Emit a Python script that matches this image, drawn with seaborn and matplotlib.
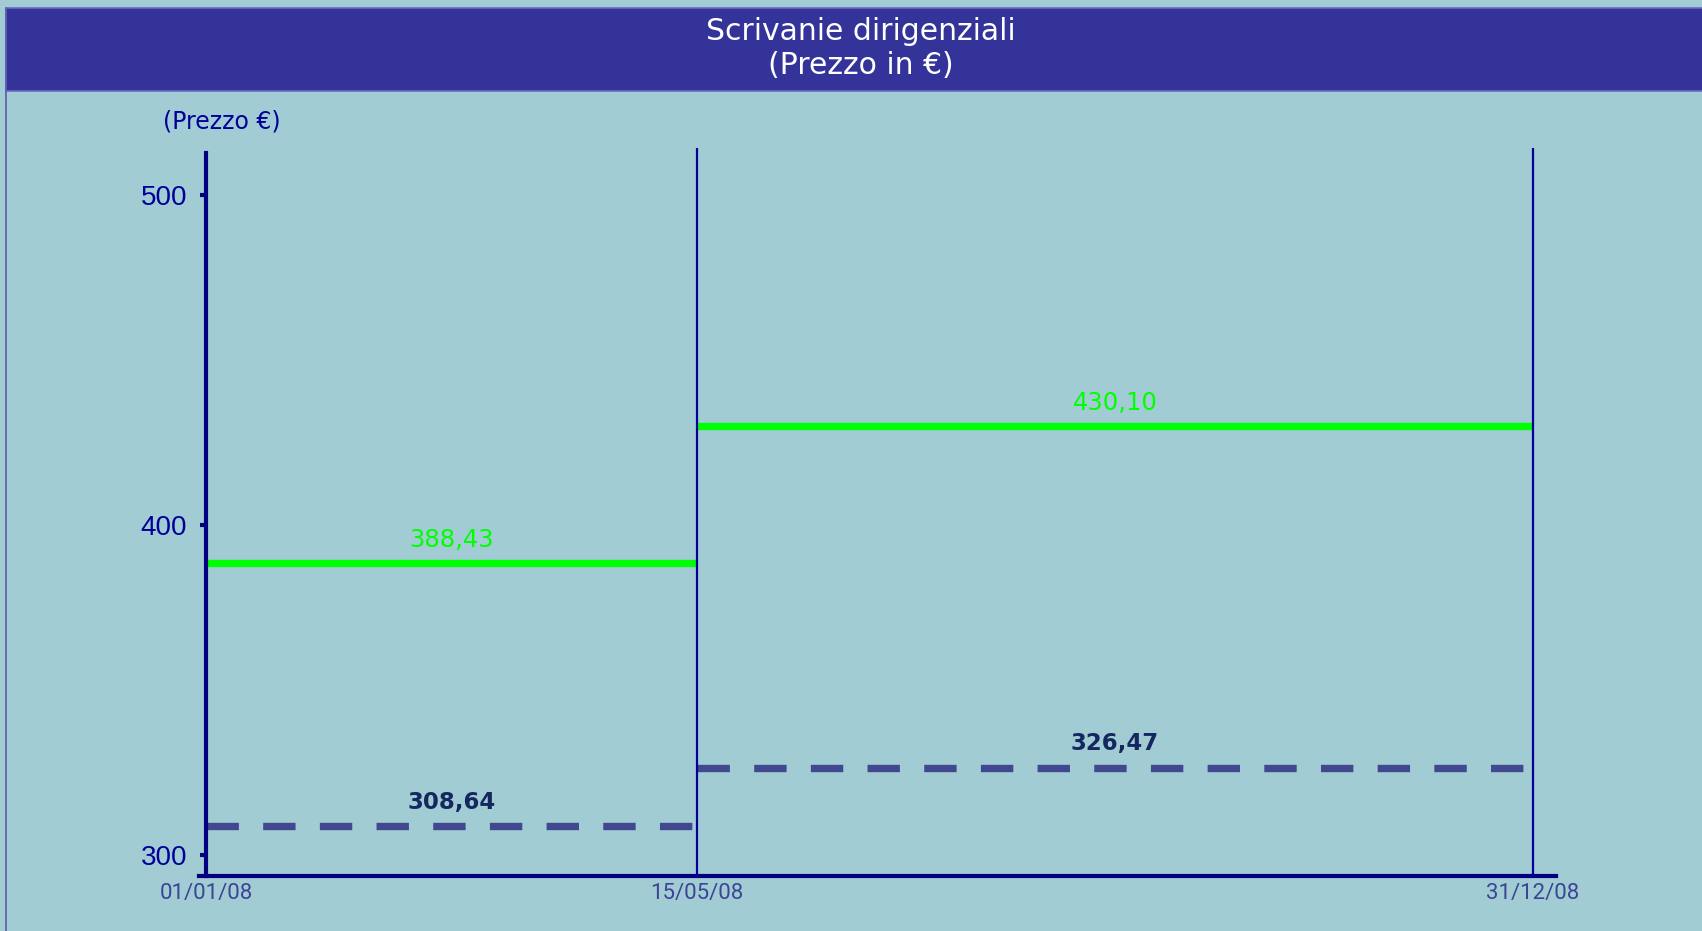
import datetime as dt
import matplotlib
matplotlib.use("Agg")
import matplotlib.pyplot as plt
import matplotlib.dates as mdates
from matplotlib.patches import Rectangle
from matplotlib.lines import Line2D
import pandas as pd
import seaborn as sns

# --- dati ---
date_periodi = [dt.datetime(2008, 1, 1), dt.datetime(2008, 5, 15), dt.datetime(2008, 12, 31)]
etichette_date = ["01/01/08", "15/05/08", "31/12/08"]
prezzo_max = [388.43, 430.10]   # linea verde
prezzo_min = [308.64, 326.47]   # linea tratteggiata
tick_y = [300, 400, 500]

titolo = "Scrivanie dirigenziali"
sottotitolo = "(Prezzo in €)"
etichetta_y = "(Prezzo €)"

# --- colori ---
sfondo = "#A2CCD3"
blu_titolo = "#333399"
blu_assi = "#000080"
blu_testo = "#000099"
verde = "#00FF00"
tratteggio = "#41488F"
scuro = "#14285F"

sns.set_theme(style="white")
plt.rcParams["font.family"] = ["DejaVu Sans"]


def segmenti(valori):
    righe = []
    for i, v in enumerate(valori):
        righe.append({"data": date_periodi[i], "prezzo": v, "tratto": i})
        righe.append({"data": date_periodi[i + 1], "prezzo": v, "tratto": i})
    return pd.DataFrame(righe)


df_max = segmenti(prezzo_max)
df_min = segmenti(prezzo_min)

W, H = 1702, 931
fig = plt.figure(figsize=(W / 100, H / 100), dpi=100, facecolor=sfondo)

# barra del titolo
fig.patches.append(Rectangle((6 / W, 1 - 91 / H), 1.0, 83 / H, transform=fig.transFigure,
                             facecolor=blu_titolo, edgecolor="#6A6AC0", lw=1.2, zorder=0))
fig.lines.append(Line2D([6 / W, 6 / W], [0, 1 - 8 / H], transform=fig.transFigure,
                        color="#5A5AB0", lw=1.2))
fig.text(0.5056, 1 - 31 / H, titolo, ha="center", va="center", color="white", fontsize=21.5)
fig.text(0.5056, 1 - 66 / H, sottotitolo, ha="center", va="center", color="white", fontsize=21.5)
fig.text(222 / W, 1 - 121 / H, etichetta_y, ha="center", va="center", color=blu_testo, fontsize=17)

# assi: pixel -> frazioni della figura
x0, x1, y_asse, y_top = 199, 1556, 876, 146
ax = fig.add_axes([x0 / W, (H - y_asse) / H, (x1 - x0) / W, (y_asse - y_top) / H])
ax.set_facecolor(sfondo)

px_giorno = (1533 - 206) / (date_periodi[-1] - date_periodi[0]).days
ax.set_xlim(date_periodi[0] - dt.timedelta(days=7 / px_giorno),
            date_periodi[-1] + dt.timedelta(days=23 / px_giorno))
px_unita = (855 - 195) / 200.0
y_min = 300 - (y_asse - 855) / px_unita
y_max = 500 + (195 - y_top) / px_unita
ax.set_ylim(y_min, y_max)

# linee verticali dei periodi
ax.vlines(date_periodi[1:], y_min, y_max - 0.5, color=blu_testo, lw=1.6, zorder=3)

sns.lineplot(data=df_max, x="data", y="prezzo", units="tratto", estimator=None,
             color=verde, lw=5.3, ax=ax, zorder=2, solid_capstyle="butt")
sns.lineplot(data=df_min, x="data", y="prezzo", units="tratto", estimator=None,
             color=tratteggio, lw=5.3, ax=ax, zorder=2, linestyle=(0, (4.4, 3.3)))

for i in range(len(prezzo_max)):
    centro = date_periodi[i] + (date_periodi[i + 1] - date_periodi[i]) / 2
    ax.annotate(f"{prezzo_max[i]:.2f}".replace(".", ","), (centro, prezzo_max[i]),
                xytext=(0, 8), textcoords="offset points", ha="center", va="bottom",
                color=verde, fontsize=17.5)
    ax.annotate(f"{prezzo_min[i]:.2f}".replace(".", ","), (centro, prezzo_min[i]),
                xytext=(0, 9), textcoords="offset points", ha="center", va="bottom",
                color=scuro, fontsize=16.5, fontweight="bold")

# stile assi
for lato in ["top", "right"]:
    ax.spines[lato].set_visible(False)
ax.spines["left"].set_position(("data", mdates.date2num(date_periodi[0])))
ax.spines["left"].set_bounds(y_min, 512.7)
for lato in ["left", "bottom"]:
    ax.spines[lato].set_color(blu_assi)
    ax.spines[lato].set_linewidth(3)

ax.set_xticks(date_periodi)
ax.set_xticklabels(etichette_date, family=["Roboto", "DejaVu Sans"], fontsize=16, color="#3C4595")
ax.tick_params(axis="x", length=0, pad=5)
ax.set_yticks(tick_y)
ax.set_yticklabels([str(t) for t in tick_y], family=["Liberation Sans", "DejaVu Sans"],
                   fontsize=20, color=blu_testo)
ax.tick_params(axis="y", length=4.5, width=3, color=blu_assi, pad=9, left=True)
ax.set_xlabel("")
ax.set_ylabel("")

fig.savefig("out.png", dpi=100, facecolor=sfondo)
